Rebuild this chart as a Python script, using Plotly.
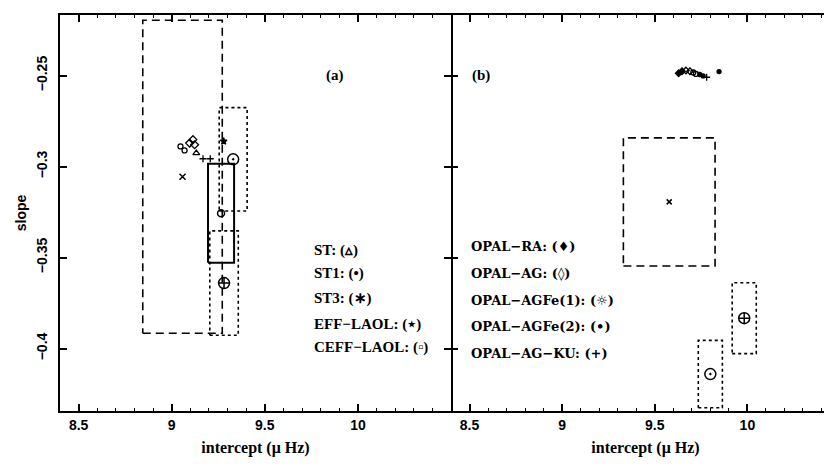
import plotly.graph_objects as go

# ---------------- data ----------------
# panel (a): models with error boxes  (centre, half-width, half-height)
a_box_x = [9.058, 9.265, 9.330, 9.281]
a_box_y = [-0.3056, -0.3257, -0.2960, -0.3640]
a_box_dx = [0.2135, 0.070, 0.075, 0.0765]
a_box_dy = [0.0860, 0.0272, 0.0284, 0.0287]

# panel (a): model cluster
a_st_x = [9.132]
a_st_y = [-0.2926]
a_st1_x = [9.047, 9.069]
a_st1_y = [-0.2889, -0.2911]
a_st3_x = [9.096, 9.114, 9.123]
a_st3_y = [-0.2871, -0.2852, -0.2880]
a_eff_x = [9.279]
a_eff_y = [-0.2861]
a_ceff_x = [9.168, 9.207]
a_ceff_y = [-0.2957, -0.2957]

# panel (b): models with error boxes
b_box_x = [9.578, 9.800, 9.983]
b_box_y = [-0.3194, -0.4140, -0.3833]
b_box_dx = [0.2475, 0.065, 0.065]
b_box_dy = [0.0352, 0.0185, 0.0195]

# panel (b): model cluster
b_ra_x = [9.629, 9.647]
b_ra_y = [-0.2487, -0.2476]
b_ag_x = [9.668, 9.690]
b_ag_y = [-0.2472, -0.2476]
b_fe1_x = [9.708, 9.722]
b_fe1_y = [-0.2483, -0.2491]
b_fe2_x = [9.743, 9.761, 9.847]
b_fe2_y = [-0.2494, -0.2502, -0.2478]
b_ku_x = [9.780]
b_ku_y = [-0.2509]

a_labels = ["ST: (\u25b5)", "ST1: (\u2022)", "ST3: (\u2217)", "EFF\u2212LAOL: (\u22c6)", "CEFF\u2212LAOL: (\u25ab)"]
b_labels = ["OPAL\u2212RA: (\u2666)", "OPAL\u2212AG: (\u25ca)", "OPAL\u2212AGFe(1): (\u263c)",
            "OPAL\u2212AGFe(2): (\u2022)", "OPAL\u2212AG\u2212KU: (+)"]
x_ticks = [8.5, 9, 9.5, 10]
y_ticks = [-0.25, -0.3, -0.35, -0.4]

# ---------------- styles ----------------
a_box_dash = ["8px,5px", "solid", "dot", "dot"]
a_box_width = [1.6, 2.0, 1.6, 1.6]
a_box_symbol = ["x-thin-open", "circle-open", "circle-open-dot", "circle-cross-open"]
a_box_msize = [6, 7, 11, 11]
b_box_dash = ["8px,5px", "dot", "dot"]
b_box_symbol = ["x-thin-open", "circle-open-dot", "circle-cross-open"]
b_box_msize = [5, 11, 11]

fig = go.Figure()


def rect(xc, yc, dx, dy):
    xs = [xc - dx, xc + dx, xc + dx, xc - dx, xc - dx]
    ys = [yc - dy, yc - dy, yc + dy, yc + dy, yc - dy]
    return xs, ys


def add_boxes(xc, yc, dx, dy, dashes, widths, symbols, sizes, xa, ya):
    for i in range(len(xc)):
        xs, ys = rect(xc[i], yc[i], dx[i], dy[i])
        fig.add_trace(go.Scatter(x=xs, y=ys, mode="lines", xaxis=xa, yaxis=ya,
                                 line=dict(color="black", width=widths[i], dash=dashes[i]),
                                 hoverinfo="skip", showlegend=False))
        fig.add_trace(go.Scatter(x=[xc[i]], y=[yc[i]], mode="markers", xaxis=xa, yaxis=ya,
                                 marker=dict(symbol=symbols[i], size=sizes[i], color="black",
                                             line=dict(width=1.5, color="black")),
                                 showlegend=False))


add_boxes(a_box_x, a_box_y, a_box_dx, a_box_dy, a_box_dash, a_box_width,
          a_box_symbol, a_box_msize, "x", "y")
add_boxes(b_box_x, b_box_y, b_box_dx, b_box_dy, b_box_dash, [1.6, 1.6, 1.6],
          b_box_symbol, b_box_msize, "x2", "y2")


def add_pts(xs, ys, symbol, size, xa, ya):
    fig.add_trace(go.Scatter(x=xs, y=ys, mode="markers", xaxis=xa, yaxis=ya,
                             marker=dict(symbol=symbol, size=size, color="black",
                                         line=dict(width=1.3, color="black")),
                             showlegend=False))


add_pts(a_st_x, a_st_y, "triangle-up-open", 6, "x", "y")
add_pts(a_st1_x, a_st1_y, "circle-open", 5, "x", "y")
add_pts(a_st3_x, a_st3_y, "diamond-open", 6, "x", "y")
add_pts(a_eff_x, a_eff_y, "star", 5, "x", "y")
add_pts(a_ceff_x, a_ceff_y, "cross-thin-open", 5, "x", "y")

add_pts(b_ra_x, b_ra_y, "diamond", 5, "x2", "y2")
add_pts(b_ag_x, b_ag_y, "diamond-open", 5, "x2", "y2")
add_pts(b_fe1_x, b_fe1_y, "circle-open", 5, "x2", "y2")
add_pts(b_fe2_x, b_fe2_y, "circle", 4, "x2", "y2")
add_pts(b_ku_x, b_ku_y, "cross-thin-open", 5, "x2", "y2")

# legend-like text
serif = "Liberation Serif"
ann = []
a_rows = [-0.3459, -0.3588, -0.3727, -0.3865, -0.3993]
b_rows = [-0.3440, -0.3588, -0.3735, -0.3879, -0.4027]
for lab, yy in zip(a_labels, a_rows):
    ann.append(dict(x=9.752, y=yy, xref="x", yref="y", text=lab, showarrow=False,
                    xanchor="left", yanchor="middle",
                    font=dict(family=serif, size=15, color="black", weight="bold")))
for lab, yy in zip(b_labels, b_rows):
    ann.append(dict(x=8.495, y=yy, xref="x2", yref="y2", text=lab, showarrow=False,
                    xanchor="left", yanchor="middle",
                    font=dict(family="DejaVu Serif", size=13, color="black", weight="bold")))
ann.append(dict(x=9.82, y=-0.25, xref="x", yref="y", text="(a)", showarrow=False,
                xanchor="left", yanchor="middle",
                font=dict(family=serif, size=15, color="black", weight="bold")))
ann.append(dict(x=8.50, y=-0.25, xref="x2", yref="y2", text="(b)", showarrow=False,
                xanchor="left", yanchor="middle",
                font=dict(family=serif, size=15, color="black", weight="bold")))

tickfont = dict(family="Liberation Sans", size=14, color="black", weight="bold")
titlefont = dict(family=serif, size=16, color="black", weight="bold")

xcommon = dict(range=[8.4, 10.5], tickvals=x_ticks, ticks="inside", ticklen=7, tickwidth=1.5,
               tickcolor="black", showline=True, linewidth=2, linecolor="black",
               mirror="ticks", showgrid=False, zeroline=False, tickfont=tickfont,
               minor=dict(dtick=0.1, ticks="inside", ticklen=3, tickcolor="black", tickwidth=1),
               title=dict(text="intercept (\u03bc Hz)", font=titlefont, standoff=10))
ycommon = dict(range=[-0.4343, -0.2167], tickvals=y_ticks, ticks="inside", ticklen=7, tickwidth=1.5,
               tickcolor="black", linecolor="black", showgrid=False, zeroline=False)

fig.update_layout(
    width=832, height=466,
    margin=dict(l=52, r=0, t=7, b=63),
    paper_bgcolor="white", plot_bgcolor="white",
    showlegend=False,
    xaxis=dict(domain=[0, 0.5013], anchor="y", **xcommon),
    xaxis2=dict(domain=[0.5013, 1.0], anchor="y2", **xcommon),
    yaxis=dict(domain=[0, 1], anchor="x", tickangle=-90, tickfont=tickfont,
               showline=True, linewidth=1.5, mirror="ticks", ticklabelstandoff=6,
               title=dict(text="slope", font=dict(family="Liberation Sans", size=14,
                                                  color="black", weight="bold"), standoff=4),
               **ycommon),
    yaxis2=dict(domain=[0, 1], anchor="x2", showticklabels=False, showline=False,
                mirror=False, **ycommon),
    annotations=ann,
)

fig.write_html("out.html")
